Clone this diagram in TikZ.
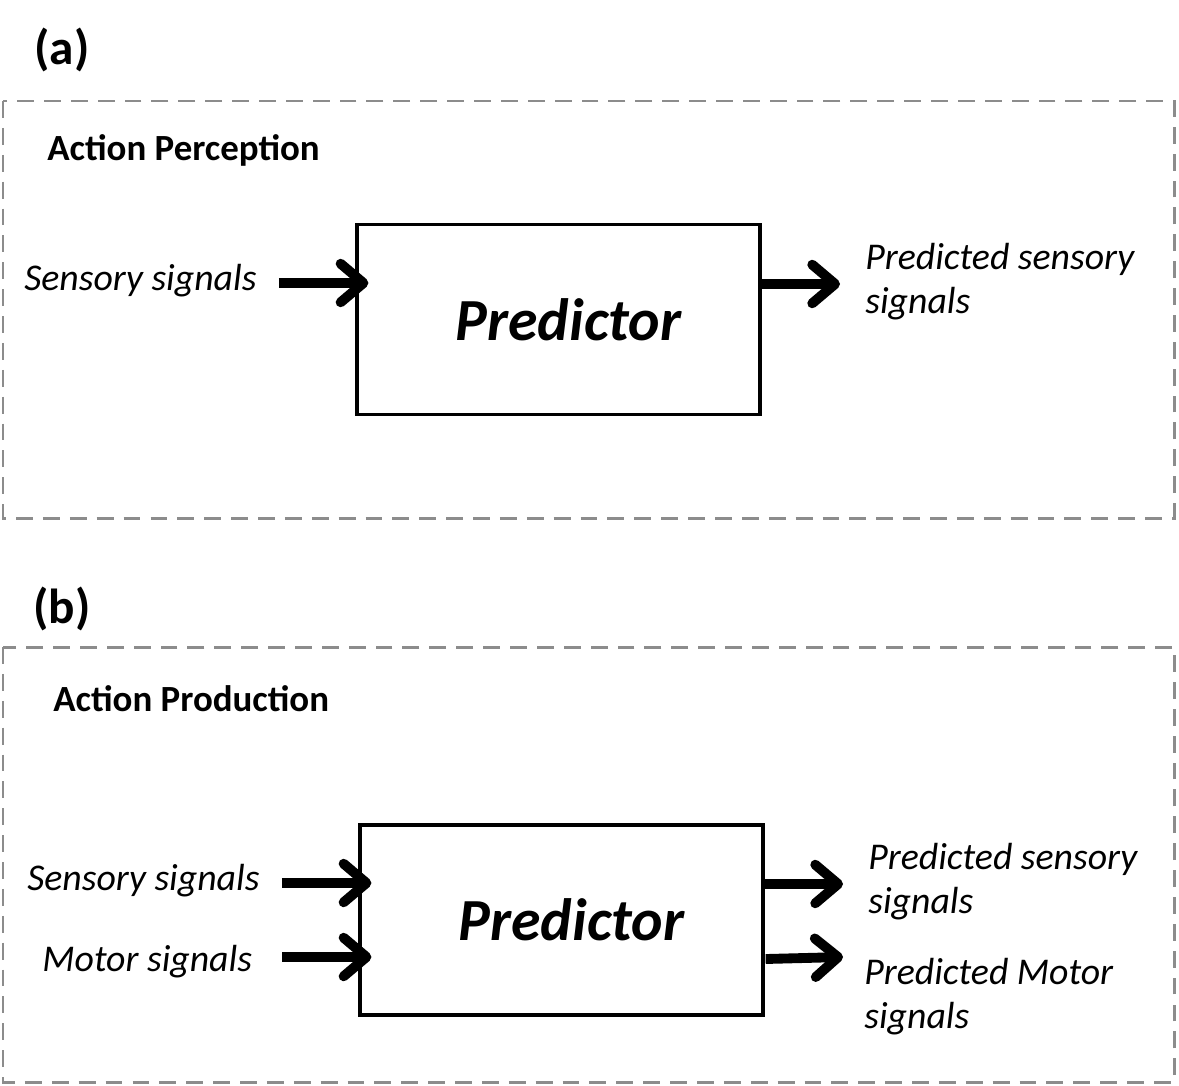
\documentclass[tikz,border=0pt]{standalone}
\usepackage{fontspec}
\setmainfont{Carlito}
\usetikzlibrary{arrows.meta}
\begin{document}
\begin{tikzpicture}[x=0.02cm, y=-0.02cm,
    panel/.style={draw=gray!90, line width=1.7pt, dash pattern=on 9.6pt off 5.7pt},
    pred/.style={draw, line width=1.9pt, minimum width=8.06cm, minimum height=3.8cm,
      font=\fontsize{34}{40}\selectfont\bfseries\itshape},
    sig/.style={anchor=west, align=left, inner sep=0pt, font=\fontsize{21.5}{25}\selectfont\itshape},
    head/.style={anchor=west, inner sep=0pt, font=\fontsize{21}{25}\selectfont\bfseries},
    tag/.style={font=\fontsize{28}{32}\selectfont\bfseries},
    flow/.style={line width=5.6pt, -{Straight Barb[length=13pt, width=22pt, round]}}]
  \useasboundingbox (0,0) rectangle (1179,1085);

  % (a)
  \node[tag] (taga) at (62,50) {(a)};
  \draw[panel] (3,101) rectangle (1174,518);
  \node[head] (heada) at (47,150) {Action Perception};
  \node[pred] (pa) at (558.5,319.5) {\hspace*{0.4cm}Predictor};
  \node[sig] (in1) at (24,281) {Sensory signals};
  \node[sig] (out1) at (865,282) {Predicted sensory\\signals};

  \draw[flow] ([xshift=0.44cm]in1.east |- 0,283) -- ([xshift=0.26cm]pa.west |- 0,283);
  \draw[flow] ([xshift=-0.06cm]pa.east |- 0,284) -- ([xshift=-0.5cm]out1.west |- 0,284);

  % (b)
  \node[tag] (tagb) at (62,609) {(b)};
  \draw[panel] (3,647) rectangle (1174,1082);
  \node[head] (headb) at (53,699) {Action Production};
  \node[pred] (pb) at (561.5,920) {\hspace*{0.4cm}Predictor};
  \node[sig] (in2) at (27,881) {Sensory signals};
  \node[sig] (in3) at (42,962) {Motor signals};
  \node[sig] (out2) at (868,882) {Predicted sensory\\signals};
  \node[sig] (out3) at (864,997) {Predicted Motor\\signals};

  \draw[flow] ([xshift=0.44cm]in2.east |- 0,883) -- ([xshift=0.26cm]pb.west |- 0,883);
  \draw[flow] ([xshift=0.6cm]in3.east |- 0,957) -- ([xshift=0.26cm]pb.west |- 0,957);
  \draw[flow] ([xshift=-0.06cm]pb.east |- 0,884) -- ([xshift=-0.5cm]out2.west |- 0,884);
  \draw[flow] ([xshift=0.02cm]pb.east |- 0,959) -- ([xshift=-0.42cm]out3.west |- 0,957);
\end{tikzpicture}
\end{document}
